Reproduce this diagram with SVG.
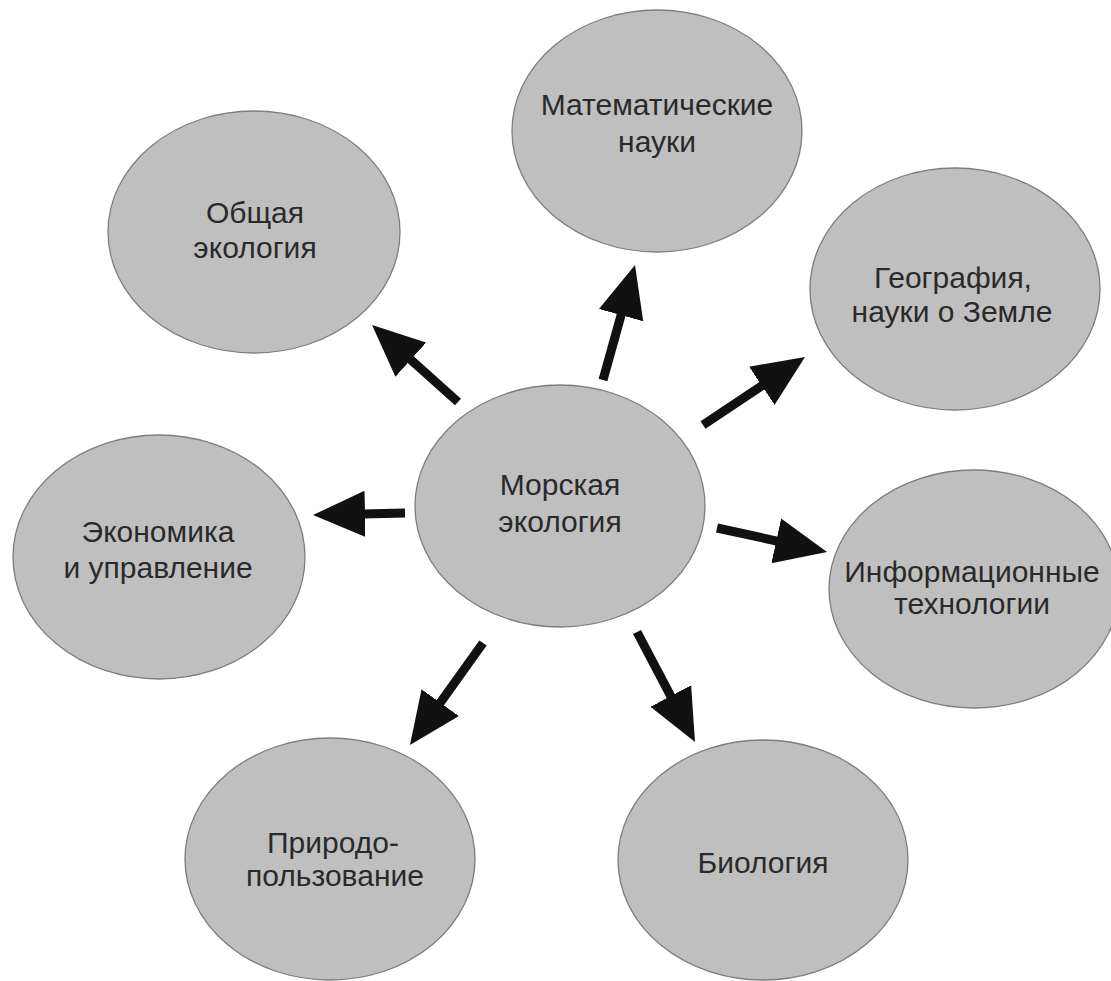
<svg xmlns="http://www.w3.org/2000/svg" width="1111" height="981" viewBox="0 0 1111 981">
<style>
.node ellipse{fill:#bfbfbf;stroke:#7d7d7d;stroke-width:1.3}
.node text{font-family:"Liberation Sans",Arial,sans-serif;font-size:30px;fill:#2a2a2a;text-anchor:middle}
.conn line{stroke:#111;stroke-width:9;stroke-linecap:butt}
</style>
<defs>
<marker id="ah" markerUnits="userSpaceOnUse" markerWidth="54" markerHeight="48" viewBox="0 0 54 48" refX="2" refY="24" orient="auto">
<path d="M0,1 L52,24 L0,47 z" fill="#111"/>
</marker>
</defs>
<rect width="1111" height="981" fill="#fff"/>
<g id="n-obshaya" class="node"><ellipse cx="254" cy="232" rx="146" ry="121"/><text x="255" y="223">Общая</text><text x="255" y="258">экология</text></g>
<g id="n-math" class="node"><ellipse cx="657" cy="131" rx="145" ry="121"/><text x="657" y="115">Математические</text><text x="657" y="152">науки</text></g>
<g id="n-geo" class="node"><ellipse cx="955" cy="289" rx="145" ry="121"/><text x="953" y="288">География,</text><text x="952" y="322">науки о Земле</text></g>
<g id="n-center" class="node"><ellipse cx="560" cy="506" rx="145" ry="121"/><text x="560" y="495">Морская</text><text x="560" y="532">экология</text></g>
<g id="n-econ" class="node"><ellipse cx="159" cy="557" rx="146" ry="122"/><text x="158" y="542">Экономика</text><text x="158" y="578">и управление</text></g>
<g id="n-info" class="node"><ellipse cx="974" cy="589" rx="145" ry="119"/><text x="972" y="582">Информационные</text><text x="972" y="614">технологии</text></g>
<g id="n-priroda" class="node"><ellipse cx="330" cy="859" rx="145" ry="121"/><text x="333" y="853">Природо-</text><text x="335" y="886">пользование</text></g>
<g id="n-bio" class="node"><ellipse cx="763" cy="860" rx="145" ry="120"/><text x="763" y="873">Биология</text></g>
<g id="connectors" class="conn">
<line x1="458" y1="402" x2="409.3" y2="358.4" marker-end="url(#ah)"/>
<line x1="603" y1="380" x2="621.6" y2="313.2" marker-end="url(#ah)"/>
<line x1="703" y1="425" x2="763.4" y2="384.7" marker-end="url(#ah)"/>
<line x1="405" y1="513" x2="363" y2="513.9" marker-end="url(#ah)"/>
<line x1="717" y1="528" x2="778.2" y2="541.3" marker-end="url(#ah)"/>
<line x1="483" y1="643" x2="439.1" y2="704.3" marker-end="url(#ah)"/>
<line x1="637" y1="632" x2="671.7" y2="697.8" marker-end="url(#ah)"/>
</g>
</svg>
